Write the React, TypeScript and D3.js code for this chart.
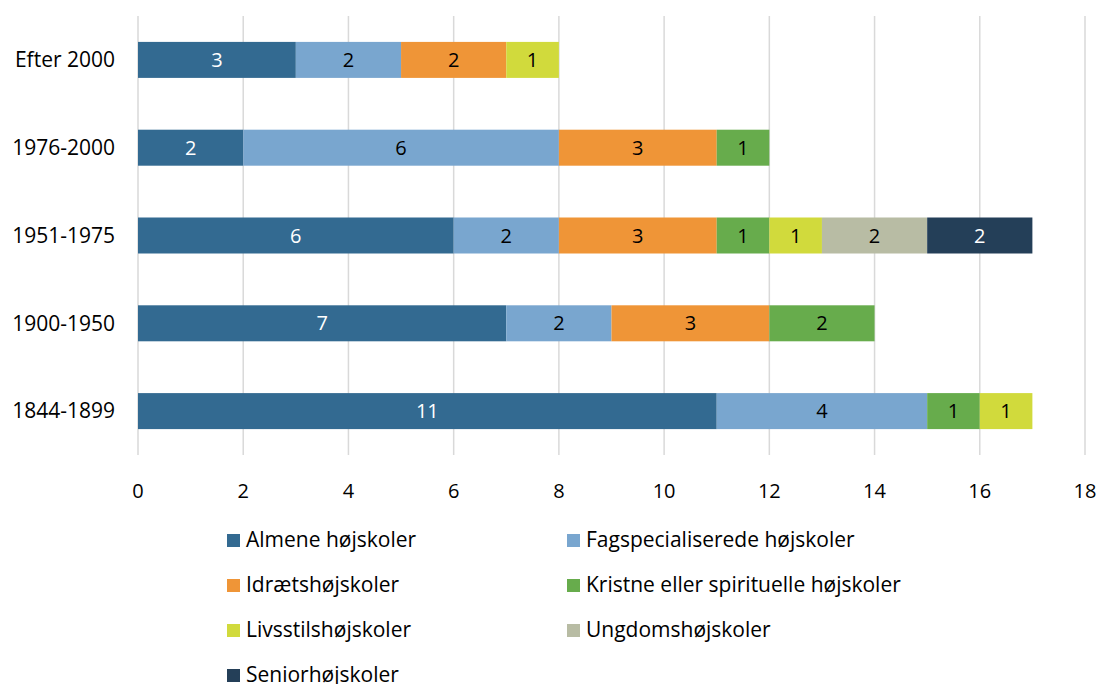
import * as d3 from 'd3';
import { useEffect, useRef } from 'react';

const periods = ['Efter 2000', '1976-2000', '1951-1975', '1900-1950', '1844-1899'];
const seriesNames = [
	'Almene højskoler',
	'Fagspecialiserede højskoler',
	'Idrætshøjskoler',
	'Kristne eller spirituelle højskoler',
	'Livsstilshøjskoler',
	'Ungdomshøjskoler',
	'Seniorhøjskoler',
];
// værdier pr. serie, i samme rækkefølge som periods
const almene = [3, 2, 6, 7, 11];
const fagspecialiserede = [2, 6, 2, 2, 4];
const idraet = [2, 3, 3, 3, 0];
const kristne = [0, 1, 1, 2, 1];
const livsstil = [1, 0, 1, 0, 1];
const ungdom = [0, 0, 2, 0, 0];
const senior = [0, 0, 2, 0, 0];
const colors = ['#336a91', '#79a6cf', '#ef9537', '#67ac4c', '#d1da3c', '#b8bca4', '#243f58'];
const whiteText = [true, false, false, false, false, false, true];
const xTicks = [0, 2, 4, 6, 8, 10, 12, 14, 16, 18];

const FONT = '"Liberation Sans Narrow", "Open Sans", Lato, sans-serif';

export default function App() {
	const ref = useRef<SVGSVGElement>(null);

	useEffect(() => {
		const svg = d3.select(ref.current);
		svg.selectAll('*').remove();

		const values = [almene, fagspecialiserede, idraet, kristne, livsstil, ungdom, senior];
		const rows = periods.map((p, i) => {
			const r: Record<string, number | string> = { period: p };
			seriesNames.forEach((s, j) => (r[s] = values[j][i]));
			return r;
		});
		const stacked = d3.stack<Record<string, number | string>>().keys(seriesNames)(rows);

		const x = d3.scaleLinear().domain([0, 18]).range([138, 1085]);
		const y = d3.scaleBand().domain(periods).range([16, 455]).paddingInner(0.59).paddingOuter(0.295);

		// gitterlinjer
		svg
			.append('g')
			.selectAll('line')
			.data(xTicks)
			.enter()
			.append('line')
			.attr('x1', (d) => x(d))
			.attr('x2', (d) => x(d))
			.attr('y1', 16)
			.attr('y2', 455)
			.style('stroke', '#d9d9d9')
			.style('stroke-width', 1.5);

		// akse-etiketter
		svg
			.append('g')
			.selectAll('text')
			.data(xTicks)
			.enter()
			.append('text')
			.attr('x', (d) => x(d))
			.attr('y', 498)
			.attr('text-anchor', 'middle')
			.style('font-family', FONT)
			.style('font-size', '20px')
			.text((d) => d);

		svg
			.append('g')
			.selectAll('text')
			.data(periods)
			.enter()
			.append('text')
			.attr('x', 115)
			.attr('y', (d) => y(d)! + y.bandwidth() / 2)
			.attr('dy', '0.35em')
			.attr('text-anchor', 'end')
			.style('font-family', FONT)
			.style('font-size', '21px')
			.text((d) => d);

		// søjler
		stacked.forEach((layer, j) => {
			const g = svg.append('g');
			const segs = layer.filter((d) => d[1] - d[0] > 0);
			g.selectAll('rect')
				.data(segs)
				.enter()
				.append('rect')
				.attr('x', (d) => x(d[0]))
				.attr('y', (d) => y(d.data.period as string)!)
				.attr('width', (d) => x(d[1]) - x(d[0]))
				.attr('height', y.bandwidth())
				.style('fill', colors[j]);
			g.selectAll('text')
				.data(segs)
				.enter()
				.append('text')
				.attr('x', (d) => (x(d[0]) + x(d[1])) / 2)
				.attr('y', (d) => y(d.data.period as string)! + y.bandwidth() / 2)
				.attr('dy', '0.35em')
				.attr('text-anchor', 'middle')
				.style('font-family', FONT)
				.style('font-size', '20px')
				.style('fill', whiteText[j] ? '#fff' : '#000')
				.text((d) => d[1] - d[0]);
		});

		// forklaring
		const legend = svg
			.append('g')
			.selectAll('g')
			.data(seriesNames)
			.enter()
			.append('g')
			.attr('transform', (_, i) => `translate(${i % 2 === 0 ? 227 : 567}, ${540 + Math.floor(i / 2) * 45})`);
		legend
			.append('rect')
			.attr('x', 0)
			.attr('y', -6)
			.attr('width', 13)
			.attr('height', 13)
			.style('fill', (_, i) => colors[i]);
		legend
			.append('text')
			.attr('x', 19)
			.attr('y', 0)
			.attr('dy', '0.35em')
			.style('font-family', FONT)
			.style('font-size', '21px')
			.text((d) => d);
	}, []);

	return (
		<svg
			ref={ref}
			width={1100}
			height={684}
			style={{ position: 'absolute', left: 0, top: 0, background: '#fff' }}
		></svg>
	);
}
